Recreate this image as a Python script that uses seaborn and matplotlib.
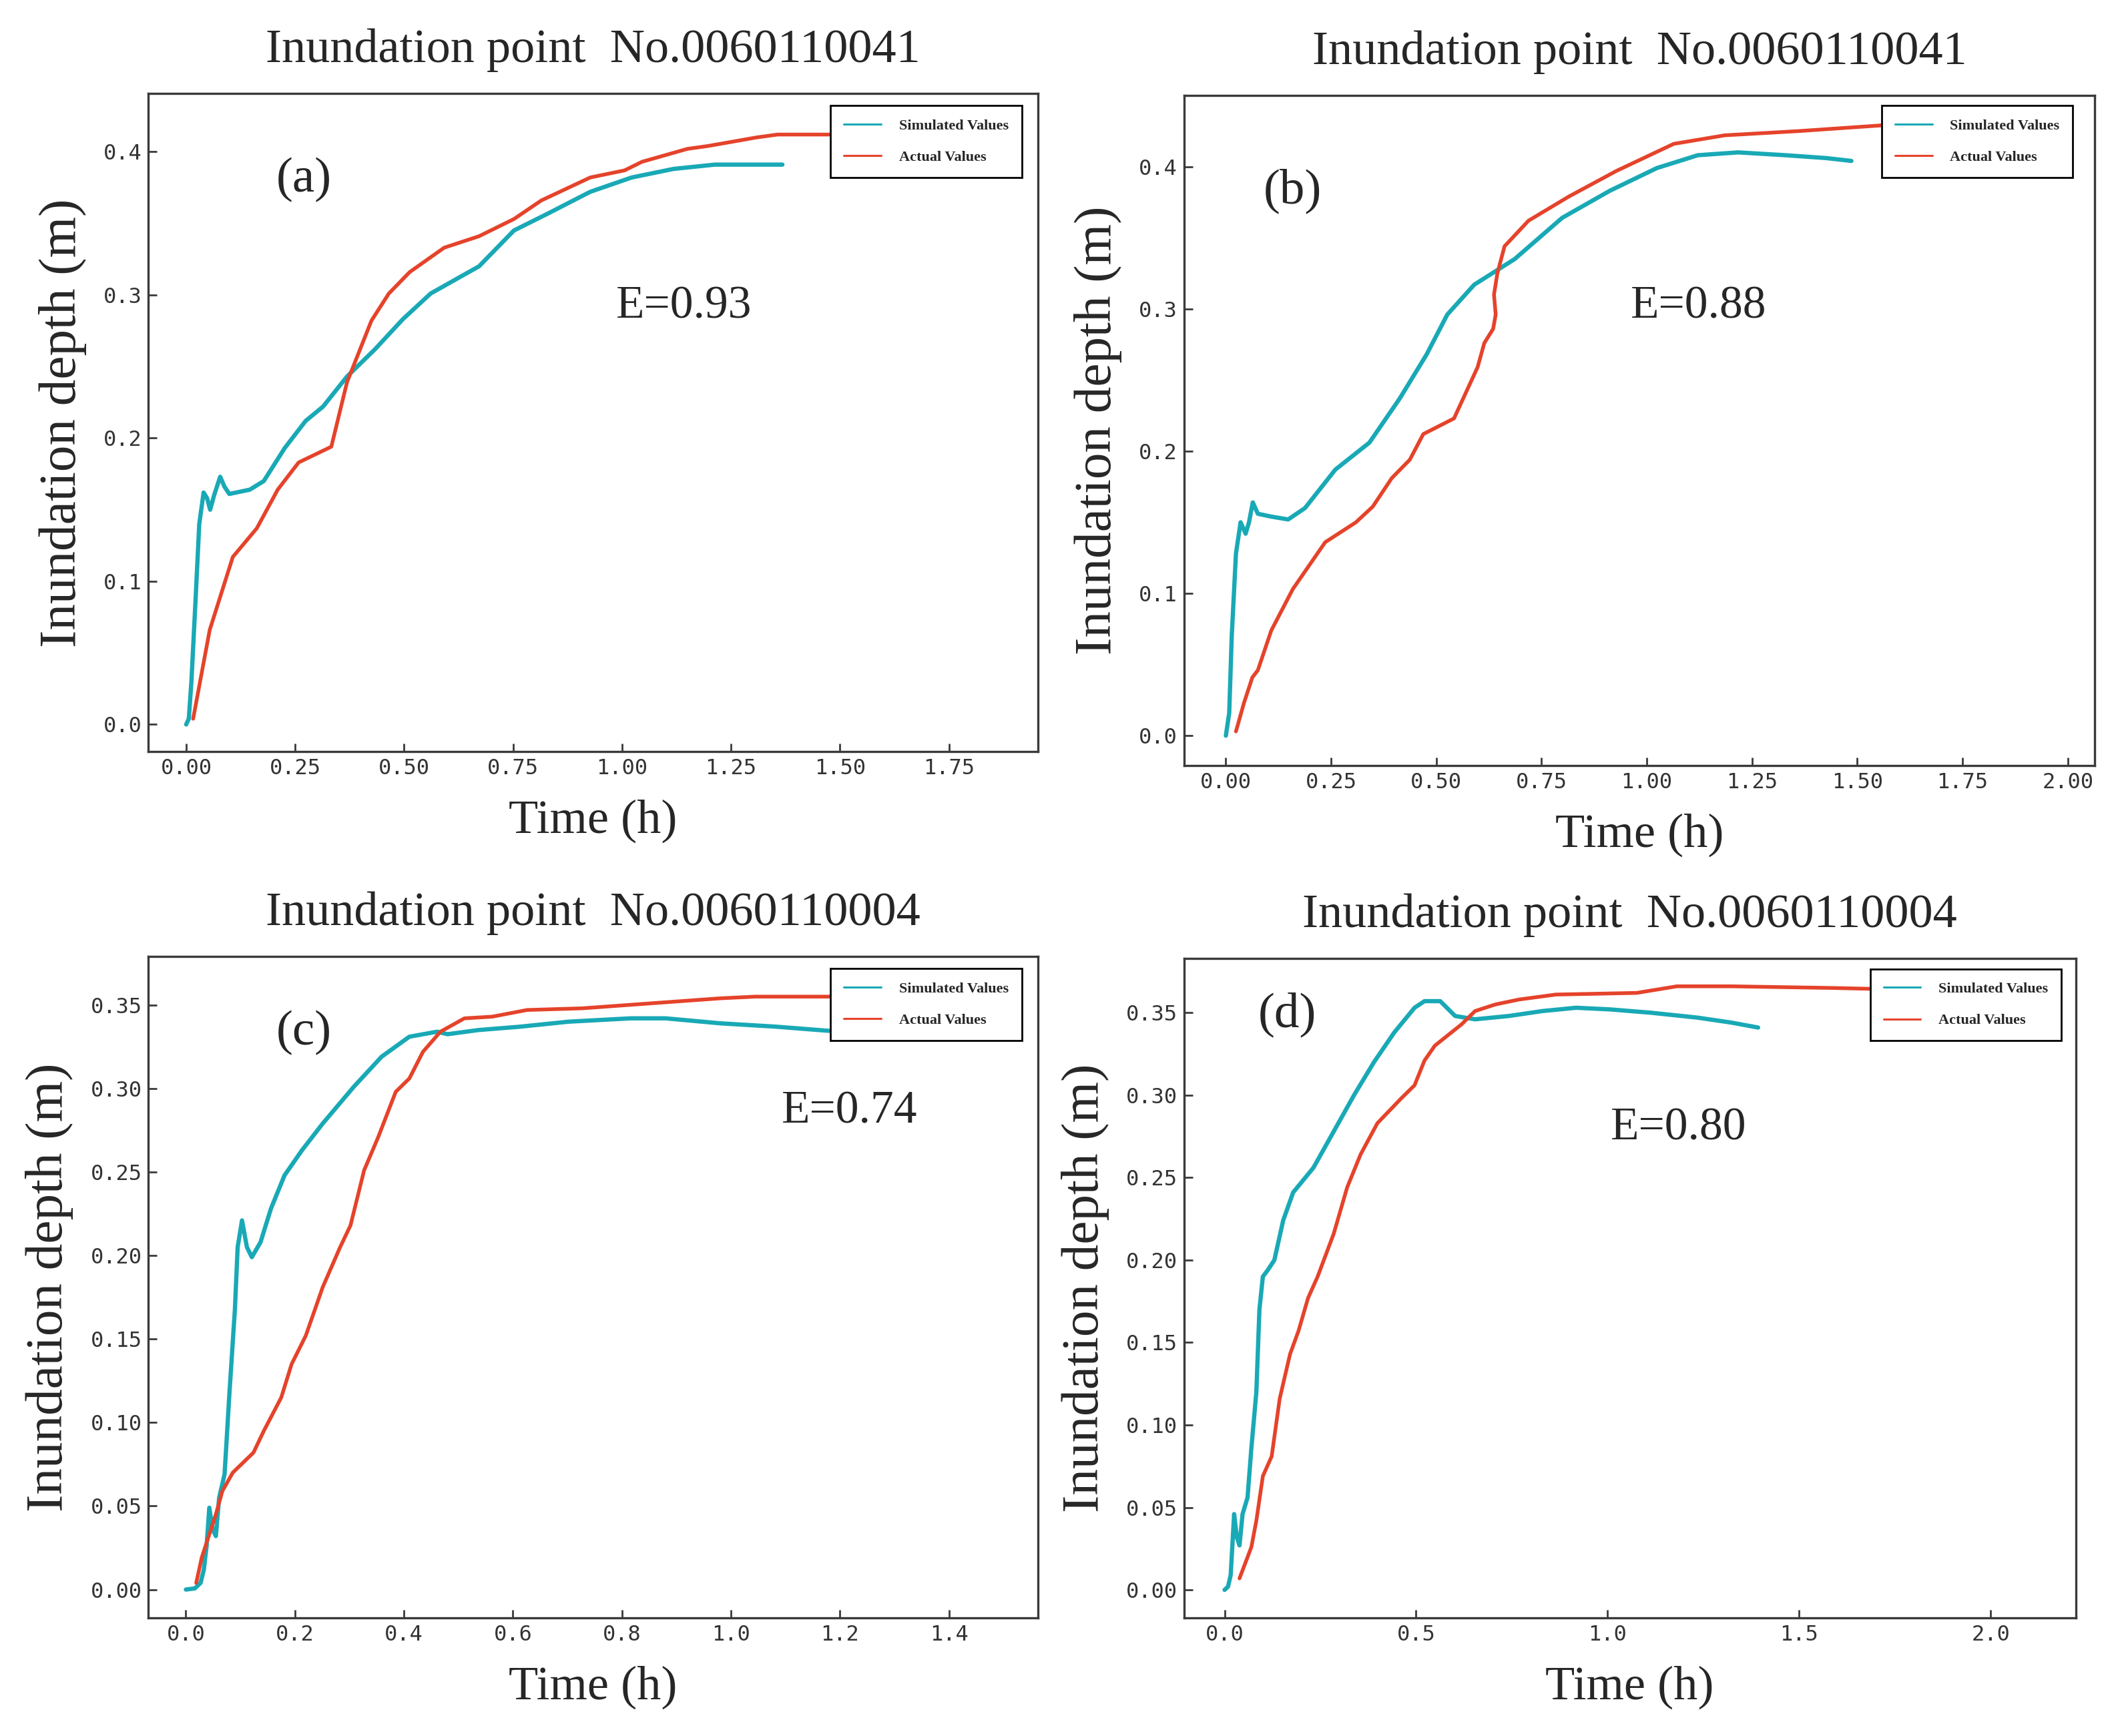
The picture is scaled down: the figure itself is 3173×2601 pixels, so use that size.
import matplotlib
matplotlib.use("Agg")
import matplotlib.pyplot as plt
import numpy as np
import pandas as pd
import seaborn as sns

# ---- data ----
# (a) point No.0060110041
a_sim_t = [0.0, 0.006, 0.012, 0.022, 0.03, 0.04, 0.048, 0.055, 0.064, 0.078, 0.088, 0.099, 0.146, 0.178,
           0.226, 0.274, 0.314, 0.369, 0.433, 0.497, 0.561, 0.672, 0.752, 0.831, 0.927, 1.022, 1.118,
           1.213, 1.368]
a_sim_d = [0.0, 0.004, 0.03, 0.09, 0.14, 0.162, 0.158, 0.150, 0.160, 0.173, 0.166, 0.161, 0.164, 0.170,
           0.193, 0.212, 0.222, 0.243, 0.262, 0.283, 0.301, 0.320, 0.345, 0.357, 0.372, 0.382, 0.388,
           0.391, 0.391]
a_act_t = [0.016, 0.035, 0.054, 0.107, 0.162, 0.21, 0.258, 0.333, 0.369, 0.425, 0.465, 0.513, 0.592,
           0.672, 0.752, 0.815, 0.927, 1.006, 1.046, 1.15, 1.197, 1.309, 1.357, 1.503]
a_act_d = [0.004, 0.035, 0.066, 0.117, 0.137, 0.164, 0.183, 0.194, 0.239, 0.282, 0.301, 0.316, 0.333,
           0.341, 0.353, 0.366, 0.382, 0.387, 0.393, 0.402, 0.404, 0.410, 0.412, 0.412]

# (b) point No.0060110041
b_sim_t = [0.0, 0.008, 0.014, 0.024, 0.035, 0.047, 0.055, 0.064, 0.076, 0.108, 0.148, 0.188, 0.26,
           0.341, 0.413, 0.477, 0.526, 0.59, 0.686, 0.799, 0.912, 1.024, 1.121, 1.217, 1.33, 1.426, 1.486]
b_sim_d = [0.0, 0.016, 0.07, 0.128, 0.150, 0.142, 0.150, 0.164, 0.156, 0.154, 0.152, 0.160, 0.187,
           0.206, 0.237, 0.268, 0.296, 0.317, 0.335, 0.364, 0.383, 0.399, 0.408, 0.410, 0.408, 0.406, 0.404]
b_act_t = [0.024, 0.043, 0.063, 0.076, 0.108, 0.159, 0.236, 0.309, 0.349, 0.394, 0.437, 0.469, 0.542,
           0.598, 0.614, 0.635, 0.641, 0.637, 0.645, 0.662, 0.719, 0.815, 0.928, 1.064, 1.185, 1.362, 1.558]
b_act_d = [0.003, 0.023, 0.041, 0.046, 0.074, 0.103, 0.136, 0.150, 0.161, 0.181, 0.194, 0.212, 0.223,
           0.259, 0.276, 0.286, 0.296, 0.310, 0.325, 0.344, 0.362, 0.379, 0.397, 0.416, 0.422, 0.425, 0.429]

# (c) point No.0060110004
c_sim_t = [0.0, 0.0165, 0.027, 0.033, 0.038, 0.043, 0.049, 0.055, 0.061, 0.071, 0.08, 0.09, 0.095,
           0.103, 0.112, 0.121, 0.137, 0.156, 0.181, 0.213, 0.251, 0.308, 0.359, 0.41, 0.461, 0.48,
           0.537, 0.613, 0.702, 0.816, 0.88, 0.981, 1.083, 1.2]
c_sim_d = [0.0, 0.0007, 0.004, 0.012, 0.026, 0.049, 0.036, 0.032, 0.055, 0.069, 0.118, 0.168, 0.205,
           0.221, 0.205, 0.199, 0.208, 0.228, 0.248, 0.263, 0.279, 0.301, 0.319, 0.331, 0.334, 0.3325,
           0.335, 0.337, 0.340, 0.342, 0.342, 0.339, 0.337, 0.334]
c_act_t = [0.019, 0.029, 0.042, 0.055, 0.067, 0.086, 0.124, 0.143, 0.175, 0.194, 0.22, 0.251, 0.283,
           0.302, 0.327, 0.353, 0.385, 0.41, 0.435, 0.467, 0.511, 0.562, 0.626, 0.727, 0.854, 0.981,
           1.045, 1.2]
c_act_d = [0.004, 0.019, 0.032, 0.045, 0.059, 0.070, 0.082, 0.095, 0.115, 0.135, 0.152, 0.181, 0.205,
           0.218, 0.251, 0.271, 0.298, 0.306, 0.322, 0.334, 0.342, 0.343, 0.347, 0.348, 0.351, 0.354,
           0.355, 0.355]

# (d) point No.0060110004
d_sim_t = [0.0, 0.009, 0.016, 0.025, 0.032, 0.039, 0.047, 0.06, 0.07, 0.083, 0.091, 0.1, 0.113, 0.13,
           0.153, 0.179, 0.232, 0.285, 0.338, 0.39, 0.443, 0.496, 0.522, 0.563, 0.602, 0.654, 0.742,
           0.83, 0.918, 1.006, 1.112, 1.235, 1.323, 1.393]
d_sim_d = [0.0, 0.002, 0.009, 0.046, 0.032, 0.027, 0.046, 0.056, 0.086, 0.120, 0.170, 0.190, 0.194,
           0.200, 0.224, 0.241, 0.256, 0.278, 0.300, 0.320, 0.338, 0.353, 0.357, 0.357, 0.348, 0.346,
           0.348, 0.351, 0.353, 0.352, 0.350, 0.347, 0.344, 0.341]
d_act_t = [0.039, 0.07, 0.083, 0.1, 0.123, 0.144, 0.171, 0.193, 0.218, 0.243, 0.285, 0.32, 0.355, 0.399,
           0.461, 0.496, 0.522, 0.549, 0.619, 0.654, 0.707, 0.769, 0.865, 1.076, 1.181, 1.323, 1.587, 1.683]
d_act_d = [0.007, 0.026, 0.042, 0.069, 0.081, 0.116, 0.143, 0.157, 0.177, 0.190, 0.216, 0.244, 0.264,
           0.283, 0.298, 0.306, 0.321, 0.330, 0.343, 0.351, 0.355, 0.358, 0.361, 0.362, 0.366, 0.366,
           0.365, 0.3645]

titles = ["Inundation point  No.0060110041", "Inundation point  No.0060110041",
          "Inundation point  No.0060110004", "Inundation point  No.0060110004"]
panel_tags = ["(a)", "(b)", "(c)", "(d)"]
e_labels = ["E=0.93", "E=0.88", "E=0.74", "E=0.80"]
series_names = ["Simulated Values", "Actual Values"]

sim_color = "#19a9b6"
act_color = "#e5432b"

sns.set_style("ticks")
plt.rcParams["font.family"] = ["Liberation Serif", "DejaVu Serif"]

fig = plt.figure(figsize=(31.73, 26.01), dpi=100)

# axes rectangles (left, bottom, width, height) in figure fractions
rects = [
    (0.070, 0.567, 0.420, 0.379),
    (0.559, 0.559, 0.430, 0.386),
    (0.070, 0.068, 0.420, 0.381),
    (0.559, 0.068, 0.421, 0.380),
]
xlims = [(-0.087, 1.954), (-0.0995, 2.064), (-0.069, 1.563), (-0.106, 2.222)]
ylims = [(-0.019, 0.4405), (-0.021, 0.450), (-0.017, 0.379), (-0.017, 0.383)]
xticks = [np.arange(0, 1.76, 0.25), np.arange(0, 2.01, 0.25), np.arange(0, 1.41, 0.2), np.arange(0, 2.01, 0.5)]
yticks = [np.arange(0, 0.41, 0.1), np.arange(0, 0.41, 0.1), np.arange(0, 0.351, 0.05), np.arange(0, 0.351, 0.05)]
xfmt = ["{:.2f}", "{:.2f}", "{:.1f}", "{:.1f}"]
yfmt = ["{:.1f}", "{:.1f}", "{:.2f}", "{:.2f}"]
tag_pos = [(0.175, 0.869), (0.119, 0.857), (0.175, 0.885), (0.116, 0.914)]
e_pos = [(0.602, 0.676), (0.565, 0.685), (0.788, 0.765), (0.555, 0.742)]
legend_anchor = [(0.982, 0.982), (0.976, 0.985), (0.982, 0.982), (0.984, 0.984)]

data = [
    (a_sim_t, a_sim_d, a_act_t, a_act_d),
    (b_sim_t, b_sim_d, b_act_t, b_act_d),
    (c_sim_t, c_sim_d, c_act_t, c_act_d),
    (d_sim_t, d_sim_d, d_act_t, d_act_d),
]

for i, (st, sd, at, ad) in enumerate(data):
    ax = fig.add_axes(rects[i])
    df = pd.concat([
        pd.DataFrame({"time": st, "depth": sd, "series": series_names[0]}),
        pd.DataFrame({"time": at, "depth": ad, "series": series_names[1]}),
    ], ignore_index=True)
    sns.lineplot(data=df, x="time", y="depth", hue="series", size="series",
                 sizes={series_names[0]: 4.6, series_names[1]: 4.0},
                 sort=False, estimator=None, palette=[sim_color, act_color], ax=ax)

    ax.set_xlim(*xlims[i])
    ax.set_ylim(*ylims[i])
    ax.set_xticks(xticks[i])
    ax.set_xticklabels([xfmt[i].format(v) for v in xticks[i]])
    ax.set_yticks(yticks[i])
    ax.set_yticklabels([yfmt[i].format(v) for v in yticks[i]])
    for lab in ax.get_xticklabels() + ax.get_yticklabels():
        lab.set_fontfamily("DejaVu Sans Mono")
        lab.set_fontsize(23)
        lab.set_color("#333333")
    ax.tick_params(axis="both", direction="in", length=9, width=2, color="#3a3a3a", pad=7)

    for sp in ax.spines.values():
        sp.set_visible(True)
        sp.set_color("#3a3a3a")
        sp.set_linewidth(2.4)

    ax.set_title(titles[i], fontsize=52, pad=34)
    ax.set_xlabel("Time (h)", fontsize=52, labelpad=22)
    ax.set_ylabel("Inundation depth (m)", fontsize=57, labelpad=18)

    ax.text(*tag_pos[i], panel_tags[i], transform=ax.transAxes, fontsize=54,
            ha="center", va="center")
    ax.text(*e_pos[i], e_labels[i], transform=ax.transAxes, fontsize=50,
            ha="center", va="center")

    ax.get_legend().remove()
    handles, labels = ax.get_legend_handles_labels()
    handles, labels = handles[-2:], labels[-2:]
    leg = ax.legend(handles, labels, loc="upper right", bbox_to_anchor=legend_anchor[i],
                    bbox_transform=ax.transAxes, borderaxespad=0, fancybox=False,
                    edgecolor="black", framealpha=1, handlelength=2.5, handletextpad=1.2,
                    labelspacing=1.2, borderpad=0.9,
                    prop={"family": "Liberation Serif", "weight": "bold", "size": 16})
    leg.get_frame().set_linewidth(2)
    for ln, col in zip(leg.get_lines(), [sim_color, act_color]):
        ln.set_linewidth(2.2)
        ln.set_color(col)

fig.savefig("out.png", dpi=100, facecolor="white")
